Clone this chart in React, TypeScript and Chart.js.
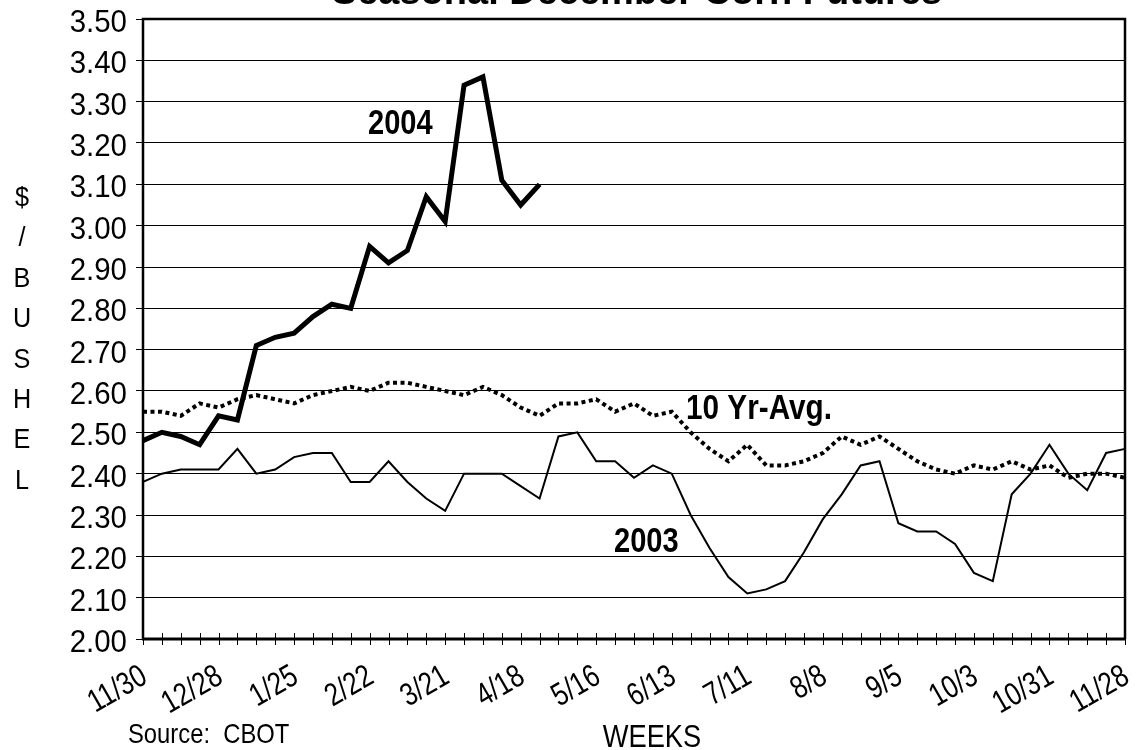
import React, { useEffect, useRef } from 'react';
import { Chart, registerables } from 'chart.js';
Chart.register(...registerables);

const weeks = ['11/30','12/7','12/14','12/21','12/28','1/4','1/11','1/18','1/25','2/1','2/8','2/15','2/22','2/29','3/7','3/14','3/21','3/28','4/4','4/11','4/18','4/25','5/2','5/9','5/16','5/23','5/30','6/6','6/13','6/20','6/27','7/4','7/11','7/18','7/25','8/1','8/8','8/15','8/22','8/29','9/5','9/12','9/19','9/26','10/3','10/10','10/17','10/24','10/31','11/7','11/14','11/21','11/28'];

const corn2004 = [2.48, 2.50, 2.49, 2.47, 2.54, 2.53, 2.71, 2.73, 2.74, 2.78, 2.81, 2.80, 2.95, 2.91, 2.94, 3.07, 3.01, 3.34, 3.36, 3.11, 3.05, 3.10];

const corn2003 = [2.38, 2.40, 2.41, 2.41, 2.41, 2.46, 2.40, 2.41, 2.44, 2.45,
  2.45, 2.38, 2.38, 2.43, 2.38, 2.34, 2.31, 2.40, 2.40, 2.40,
  2.37, 2.34, 2.49, 2.50, 2.43, 2.43, 2.39, 2.42, 2.40, 2.30,
  2.22, 2.15, 2.11, 2.12, 2.14, 2.21, 2.29, 2.35, 2.42, 2.43,
  2.28, 2.26, 2.26, 2.23, 2.16, 2.14, 2.35, 2.40, 2.47, 2.40,
  2.36, 2.45, 2.46];

const tenYearAvg = [2.55, 2.55, 2.54, 2.57, 2.56, 2.58, 2.59, 2.58, 2.57, 2.59,
  2.60, 2.61, 2.60, 2.62, 2.62, 2.61, 2.60, 2.59, 2.61, 2.59,
  2.56, 2.54, 2.57, 2.57, 2.58, 2.55, 2.57, 2.54, 2.55, 2.50,
  2.46, 2.43, 2.47, 2.42, 2.42, 2.43, 2.45, 2.49, 2.47, 2.49,
  2.46, 2.43, 2.41, 2.40, 2.42, 2.41, 2.43, 2.41, 2.42, 2.39,
  2.40, 2.40, 2.39];

const yMin = 2.0;
const yMax = 3.5;
const yStep = 0.1;
const labelEvery = 4;

const titleText = 'Seasonal December Corn Futures';
const yTitleLetters = ['$', '/', 'B', 'U', 'S', 'H', 'E', 'L'];
const xTitleText = 'WEEKS';
const sourceText = 'Source:  CBOT';
const label2004 = '2004';
const label2003 = '2003';
const labelAvg = '10 Yr-Avg.';

const FAM = "'Liberation Sans', Arial, sans-serif";

function drawText(ctx: CanvasRenderingContext2D, text: string, x: number, y: number, font: string,
  sx: number, align: CanvasTextAlign, baseline: CanvasTextBaseline, rot = 0) {
  ctx.save();
  ctx.translate(x, y);
  if (rot) ctx.rotate(rot);
  ctx.scale(sx, 1);
  ctx.font = font;
  ctx.textAlign = align;
  ctx.textBaseline = baseline;
  ctx.fillStyle = '#000';
  ctx.fillText(text, 0, 0);
  ctx.restore();
}

export default function App() {
  const ref = useRef<HTMLCanvasElement>(null);

  useEffect(() => {
    if (!ref.current) return;

    const decor = {
      id: 'decor',
      afterDraw(chart: any) {
        const { ctx, chartArea: a, scales } = chart;
        const xs = scales.x;
        const ys = scales.y;
        ctx.save();
        ctx.strokeStyle = '#000';
        // frame
        ctx.lineWidth = 2.5;
        ctx.beginPath();
        ctx.moveTo(a.left, a.bottom);
        ctx.lineTo(a.left, a.top);
        ctx.lineTo(a.right, a.top);
        ctx.lineTo(a.right, a.bottom);
        ctx.stroke();
        ctx.lineWidth = 3;
        ctx.beginPath();
        ctx.moveTo(a.left - 1, a.bottom);
        ctx.lineTo(a.right + 1, a.bottom);
        ctx.stroke();
        // week ticks crossing the axis
        ctx.lineWidth = 1;
        ctx.beginPath();
        for (let i = 0; i < weeks.length; i++) {
          const x = Math.round(xs.getPixelForValue(i)) + 0.5;
          ctx.moveTo(x, a.bottom - 6);
          ctx.lineTo(x, a.bottom + 6);
        }
        ctx.stroke();
        ctx.restore();

        // y tick labels
        ys.ticks.forEach((t: any, i: number) => {
          const y = ys.getPixelForTick(i);
          drawText(ctx, Number(t.value).toFixed(2), a.left - 16, y + 13, `31px ${FAM}`, 0.95, 'right', 'alphabetic');
        });
        // x tick labels
        for (let i = 0; i < weeks.length; i += labelEvery) {
          const x = xs.getPixelForValue(i);
          drawText(ctx, weeks[i], x + 6, a.bottom + 43, `32px ${FAM}`, 0.8, 'right', 'alphabetic', -Math.PI / 6);
        }

        // title (cut at top)
        drawText(ctx, titleText, 637, 4, `bold 38px ${FAM}`, 1, 'center', 'alphabetic');

        // y title stacked letters
        yTitleLetters.forEach((ch, k) => {
          drawText(ctx, ch, 22, 205.9 + k * 40.4, `28px ${FAM}`, 0.9, 'center', 'alphabetic');
        });

        // x title and source
        drawText(ctx, xTitleText, 652, 747, `31px ${FAM}`, 0.88, 'center', 'alphabetic');
        drawText(ctx, sourceText, 128, 743, `28px ${FAM}`, 0.85, 'left', 'alphabetic');

        // series annotations
        drawText(ctx, label2004, 368, 134, `bold 35px ${FAM}`, 0.83, 'left', 'alphabetic');
        drawText(ctx, label2003, 614, 551.5, `bold 35px ${FAM}`, 0.83, 'left', 'alphabetic');
        drawText(ctx, labelAvg, 686, 419.3, `bold 35px ${FAM}`, 0.85, 'left', 'alphabetic');
      },
    };

    const chart = new Chart(ref.current, {
      type: 'line',
      data: {
        labels: weeks,
        datasets: [
          {
            label: '2004',
            data: corn2004,
            borderColor: '#000',
            borderWidth: 5,
            pointRadius: 0,
            tension: 0,
            fill: false,
            borderJoinStyle: 'miter',
          },
          {
            label: '2003',
            data: corn2003,
            borderColor: '#000',
            borderWidth: 2,
            pointRadius: 0,
            tension: 0,
            fill: false,
          },
          {
            label: '10 Yr-Avg.',
            data: tenYearAvg,
            borderColor: '#000',
            borderWidth: 4,
            borderDash: [4, 3.5],
            pointRadius: 0,
            tension: 0,
            fill: false,
          },
        ],
      },
      options: {
        responsive: false,
        animation: false,
        layout: { padding: { top: 19, right: 12, left: 0, bottom: 0 } },
        plugins: {
          legend: { display: false },
          tooltip: { enabled: false },
          title: { display: false },
        },
        scales: {
          x: {
            type: 'category',
            offset: false,
            grid: { display: false, drawTicks: false },
            border: { display: false },
            ticks: {
              autoSkip: false,
              maxRotation: 30,
              minRotation: 30,
              color: 'transparent',
              font: { family: FAM, size: 28 },
              callback: (_v: any, i: number) => (i % labelEvery === 0 ? weeks[i] : ''),
            },
            afterFit: (s: any) => { s.height = 111; s.paddingLeft = 0; s.paddingRight = 0; },
          },
          y: {
            min: yMin,
            max: yMax,
            grid: { color: '#000', lineWidth: 1, tickLength: 7, drawTicks: true },
            border: { display: false },
            ticks: {
              stepSize: yStep,
              color: 'transparent',
              font: { family: FAM, size: 30 },
              callback: (v: any) => Number(v).toFixed(2),
            },
            afterFit: (s: any) => { s.width = 143; s.paddingTop = 0; s.paddingBottom = 0; },
          },
        },
      },
      plugins: [decor],
    });

    return () => chart.destroy();
  }, []);

  return (
    <div style={{ position: 'absolute', left: 0, top: 0, width: 1137, height: 750 }}>
      <canvas ref={ref} width={1137} height={750} style={{ display: 'block', width: 1137, height: 750 }} />
    </div>
  );
}
